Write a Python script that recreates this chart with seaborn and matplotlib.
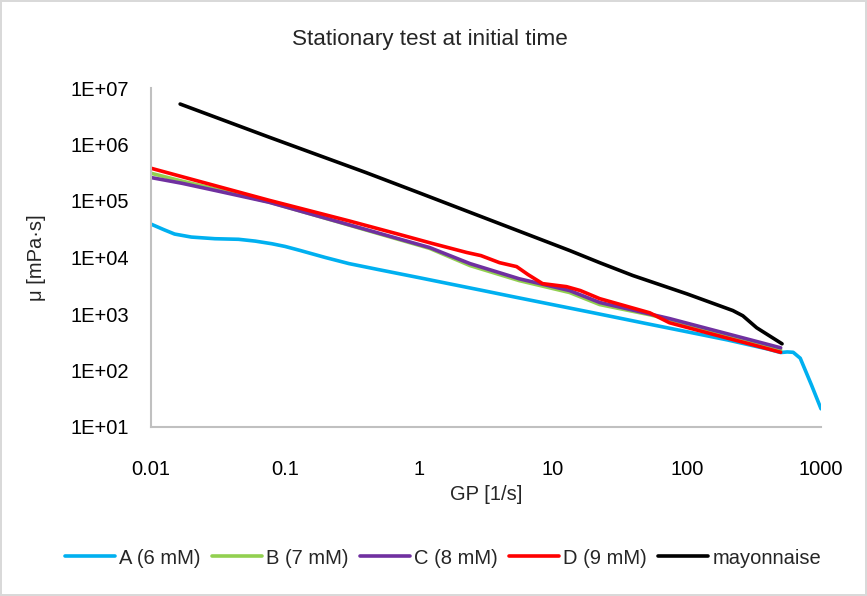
import matplotlib
matplotlib.use("Agg")
import matplotlib.pyplot as plt
import seaborn as sns
import numpy as np
from matplotlib.ticker import FixedLocator, FuncFormatter, NullLocator

# ---- data ----
a_x = [0.01, 0.0125, 0.015, 0.02, 0.03, 0.045, 0.06, 0.08, 0.1, 0.13, 0.2, 0.3, 0.5, 1,
       1.7, 3, 5, 10, 20, 50, 100, 200, 400, 500, 560, 620, 700, 850, 1000]
a_y = [3.9e4, 3.1e4, 2.6e4, 2.3e4, 2.15e4, 2.1e4, 1.95e4, 1.75e4, 1.57e4, 1.33e4, 1.0e4,
       7.8e3, 6.1e3, 4.4e3, 3.41e3, 2.6e3, 2.03e3, 1.46e3, 1.05e3, 675, 485, 348, 240,
       208, 213, 210, 165, 55, 21]

b_x = [0.01, 0.017, 0.03, 0.076, 0.2, 0.5, 1.2, 2.4, 5.6, 13.3, 22.3, 52.7, 74, 150, 300, 500]
b_y = [3.1e5, 2.25e5, 1.64e5, 9.6e4, 4.95e4, 2.64e4, 1.45e4, 7.2e3, 3.9e3, 2.4e3, 1.47e3,
       970, 800, 505, 322, 230]

c_x = [0.01, 0.017, 0.03, 0.076, 0.2, 0.5, 1.2, 2.4, 5.6, 13.3, 22.3, 52.7, 74, 150, 300, 500]
c_y = [2.6e5, 2.06e5, 1.54e5, 9.5e4, 4.98e4, 2.7e4, 1.5e4, 7.8e3, 4.2e3, 2.6e3, 1.6e3,
       1.0e3, 830, 534, 347, 252]

d_x = [0.01, 0.017, 0.076, 0.3, 0.714, 1.26, 2.26, 2.9, 3.99, 5.35, 6.5, 8.35, 12.6, 16,
       22.3, 52.7, 74, 150, 300, 500]
d_y = [3.8e5, 2.7e5, 1.03e5, 4.45e4, 2.56e4, 1.77e4, 1.23e4, 1.08e4, 8.1e3, 6.9e3, 5.0e3,
       3.45e3, 3.05e3, 2.6e3, 1.87e3, 1.05e3, 700, 448, 291, 210]

m_x = [0.0165, 0.076, 0.4, 1.0, 13.3, 22.3, 39.4, 100, 220, 261, 331, 512]
m_y = [5.2e6, 1.35e6, 3.2e5, 1.4e5, 1.33e4, 8.1e3, 4.8e3, 2.27e3, 1.15e3, 930, 571, 297]

labels = ["A (6 mM)", "B (7 mM)", "C (8 mM)", "D (9 mM)", "mayonnaise"]
colors = ["#00B0F0", "#92D050", "#7030A0", "#FF0000", "#000000"]
x_ticks = [0.01, 0.1, 1, 10, 100, 1000]
x_tick_labels = ["0.01", "0.1", "1", "10", "100", "1000"]
y_ticks = [1e1, 1e2, 1e3, 1e4, 1e5, 1e6, 1e7]

title = "Stationary test at initial time"
xlabel = "GP [1/s]"
ylabel = "μ [mPa·s]"

# ---- style ----
sns.set_theme(style="white")
plt.rcParams['font.family'] = ['Liberation Sans Narrow', 'Liberation Sans', 'DejaVu Sans']

fig = plt.figure(figsize=(8.67, 5.96), dpi=100)
fig.patch.set_facecolor("white")
fig.patch.set_edgecolor("#d9d9d9")
fig.patch.set_linewidth(1.5)
ax = fig.add_axes([151/867, 1-427/596, (821-151)/867, (427-88)/596])

series = [(a_x, a_y), (b_x, b_y), (c_x, c_y), (d_x, d_y), (m_x, m_y)]
for (xs, ys), lab, col in zip(series, labels, colors):
    sns.lineplot(x=xs, y=ys, ax=ax, color=col, label=lab, linewidth=2.6,
                 sort=False, estimator=None)

ax.set_xscale("log")
ax.set_yscale("log")
ax.set_xlim(0.01, 1000)
ax.set_ylim(10, 1e7)
ax.xaxis.set_major_locator(FixedLocator(x_ticks))
ax.xaxis.set_major_formatter(FuncFormatter(
    lambda v, p: x_tick_labels[int(np.argmin([abs(np.log10(t) - np.log10(v)) for t in x_ticks]))]))
ax.xaxis.set_minor_locator(NullLocator())
ax.yaxis.set_major_locator(FixedLocator(y_ticks))
ax.yaxis.set_major_formatter(FuncFormatter(lambda v, p: "1E+%02d" % int(round(np.log10(v)))))
ax.yaxis.set_minor_locator(NullLocator())
ax.tick_params(axis="x", length=0, pad=24, labelsize=14.5, colors="#000000")
ax.tick_params(axis="y", length=0, pad=15.5, labelsize=14.5, colors="#000000")

for s in ["top", "right"]:
    ax.spines[s].set_visible(False)
for s in ["left", "bottom"]:
    ax.spines[s].set_color("#c0c0c0")
    ax.spines[s].set_linewidth(1.5)
ax.grid(False)

ax.set_xlabel(xlabel, fontsize=14.5)
ax.set_ylabel(ylabel, fontsize=14.5)
ax.xaxis.set_label_coords(0.5, -0.172)
ax.yaxis.set_label_coords(-0.157, 0.5)

fig.text(0.496, 1-40/596, title, ha="center", va="center", fontsize=16.2)

handles, labs = ax.get_legend_handles_labels()
ax.get_legend().remove()
fig.legend(handles, labs, loc="center", bbox_to_anchor=(0.511, 1-558/596), ncol=5,
           frameon=False, fontsize=14.5, handlelength=2.5, handletextpad=0.2,
           columnspacing=0.55)

fig.savefig("out.png", dpi=100, facecolor=fig.get_facecolor(), edgecolor=fig.get_edgecolor())
